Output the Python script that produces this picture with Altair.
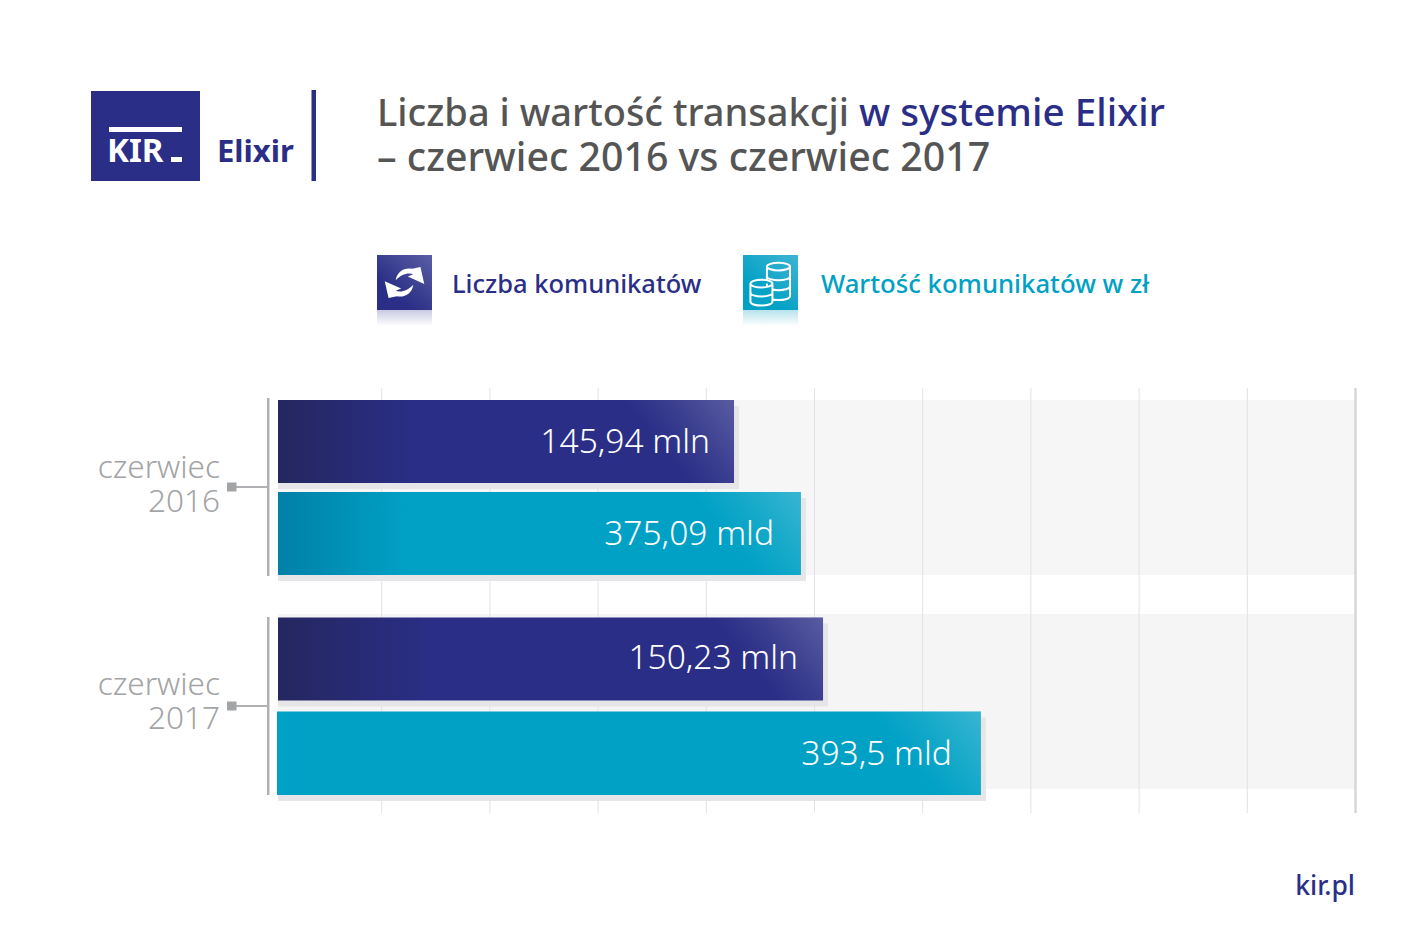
import altair as alt
import pandas as pd

# ---------- data ----------
periods = ["czerwiec 2016", "czerwiec 2017"]
count_values = [145.94, 150.23]     # mln
amount_values = [375.09, 393.5]     # mld
count_labels = ["145,94 mln", "150,23 mln"]
amount_labels = ["375,09 mld", "393,5 mld"]
grid_steps = [1, 2, 3, 4, 5, 6, 7, 8, 9]
grid_end = [10]

NAVY = "#2a2e86"
NAVY_D = "#25275f"
CYAN = "#00a1c5"
CYAN_D = "#0180a8"
GREY = "#a3a4a6"
TITLE = "#555555"
FONT = "Noto Sans"

W, H = 1401, 929
def X(p): return p - 8
def Y(p): return p - 8

ONE = pd.DataFrame({"a": [0]})

def rect(x0, x1, y0, y1, fill, **kw):
    return alt.Chart(ONE).mark_rect(fill=fill, **kw).encode(
        x=alt.value(X(x0)), x2=alt.value(X(x1)), y=alt.value(Y(y0)), y2=alt.value(Y(y1)))

def txt(s, x, y, size, color, align="left", weight=400, font=FONT, **kw):
    return alt.Chart(pd.DataFrame({"t": [s]})).mark_text(
        align=align, baseline="alphabetic", fontSize=size, color=color,
        fontWeight=weight, font=font, **kw
    ).encode(x=alt.value(X(x)), y=alt.value(Y(y)), text="t:N")

def hgrad(c0, c1, stop=0.3):
    return {"gradient": "linear", "x1": 0, "y1": 0, "x2": 1, "y2": 0,
            "stops": [{"offset": 0, "color": c0}, {"offset": stop, "color": c1},
                      {"offset": 1, "color": c1}]}

def vgrad(c0, c1):
    return {"gradient": "linear", "x1": 0, "y1": 0, "x2": 0, "y2": 1,
            "stops": [{"offset": 0, "color": c0}, {"offset": 1, "color": c1}]}

SHINE = {"gradient": "linear", "x1": 0, "y1": 0.6, "x2": 1, "y2": 0,
         "stops": [{"offset": 0.26, "color": "rgba(255,255,255,0)"},
                   {"offset": 0.56, "color": "rgba(255,255,255,0.08)"},
                   {"offset": 1, "color": "rgba(255,255,255,0.22)"}]}

COUNT_DOM = [123.96, 175.87]
AMOUNT_DOM = [321.6, 431.76]
RANGE = [X(278), X(1355)]

def hbar(value, dom, y0, y1, fill, label, dx, left=0, base=11.5):
    df = pd.DataFrame({"v": [value], "b": [dom[0]], "t": [label]})
    sc = alt.Scale(domain=dom, range=RANGE)
    enc = alt.X("v:Q", scale=sc, axis=None)
    shadow = alt.Chart(df).mark_bar(fill="#e6e6e8", xOffset=5, x2Offset=0, yOffset=6, y2Offset=6).encode(
        x=enc, x2=alt.X2("b:Q"), y=alt.value(Y(y0)), y2=alt.value(Y(y1)))
    bar = alt.Chart(df).mark_bar(fill=fill, x2Offset=left).encode(
        x=enc, x2=alt.X2("b:Q"), y=alt.value(Y(y0)), y2=alt.value(Y(y1)))
    shine = alt.Chart(df).mark_bar(fill=SHINE, x2Offset=-110).encode(
        x=enc, x2=alt.X2("v:Q"), y=alt.value(Y(y0)), y2=alt.value(Y(y1)))
    text = alt.Chart(df).mark_text(
        align="right", baseline="alphabetic", fontSize=33.5, color="white", font=FONT, fontWeight=300, dx=dx
    ).encode(x=enc, y=alt.value(Y((y0 + y1) / 2 + base)), text="t:N")
    return [shadow, bar, shine, text]

layers = []

# ---------- logo ----------
layers += [
    rect(91, 200, 91, 181, NAVY),
    rect(109, 182, 127, 132, "white"),
    rect(171, 182, 157, 162, "white"),
    txt("KIR", 107, 162, 33, "white", weight=700),
    txt("Elixir", 217, 162, 31, NAVY, weight=700),
    rect(311.5, 316, 90, 181, NAVY),
]

# ---------- title ----------
layers += [
    txt("Liczba i wartość transakcji", 377, 126, 38, TITLE, weight=500),
    txt("w systemie Elixir", 859, 126, 38.7, NAVY, weight=500),
    txt("– czerwiec 2016 vs czerwiec 2017", 377, 171, 39.3, TITLE, weight=500),
]

# ---------- legend ----------
UP = "M -0.32 -0.08 C -0.28 -0.38 -0.02 -0.56 0.28 -0.50 L 0.58 -0.56 L 0.72 0.05 L 0.12 -0.22 L 0.32 -0.30 C 0.12 -0.38 -0.14 -0.28 -0.32 -0.08 Z"
DOWN = "M 0.32 0.08 C 0.28 0.38 0.02 0.56 -0.28 0.50 L -0.58 0.56 L -0.72 -0.05 L -0.12 0.22 L -0.32 0.30 C -0.12 0.38 0.14 0.28 0.32 0.08 Z"

def stack(cx, top, n, rx=0.42, ry=0.14, step=0.30):
    p = f"M {cx-rx:.3f} {top:.3f} A {rx} {ry} 0 1 1 {cx+rx:.3f} {top:.3f} A {rx} {ry} 0 1 1 {cx-rx:.3f} {top:.3f} "
    for i in range(1, n + 1):
        y = top + i * step
        p += f"M {cx-rx:.3f} {y-step:.3f} L {cx-rx:.3f} {y:.3f} A {rx} {ry} 0 0 0 {cx+rx:.3f} {y:.3f} L {cx+rx:.3f} {y-step:.3f} "
    return p

COINS_BACK = stack(0.29, -0.58, 3, step=0.36)
COINS_FRONT = stack(-0.33, 0.04, 2, rx=0.40, step=0.33)

def glyph(path, cx, cy, **kw):
    return alt.Chart(ONE).mark_point(shape=path, size=55 * 55, **kw).encode(
        x=alt.value(X(cx)), y=alt.value(Y(cy)))

SQ_N = {"gradient": "linear", "x1": 0.35, "y1": 0.75, "x2": 1, "y2": 0,
        "stops": [{"offset": 0, "color": NAVY}, {"offset": 1, "color": "#5a5ea4"}]}
SQ_C = {"gradient": "linear", "x1": 0.35, "y1": 0.75, "x2": 1, "y2": 0,
        "stops": [{"offset": 0, "color": CYAN}, {"offset": 1, "color": "#40b4d2"}]}

layers += [
    rect(377, 432, 310, 326, vgrad("#c9cae2", "#ffffff")),
    rect(377, 432, 255, 310, SQ_N),
    glyph(UP, 404.5, 282.5, filled=True, fill="white", opacity=1),
    glyph(DOWN, 404.5, 282.5, filled=True, fill="white", opacity=1),
    txt("Liczba komunikatów", 452, 293, 25.5, NAVY, weight=500),
    rect(743, 798, 310, 326, vgrad("#b5e2ec", "#ffffff")),
    rect(743, 798, 255, 310, SQ_C),
    glyph(COINS_BACK, 770.5, 282.5, filled=False, stroke="white", strokeWidth=2, opacity=1),
    glyph(COINS_FRONT, 770.5, 282.5, filled=True, fill="#06a3c6", stroke="white", strokeWidth=2, opacity=1),
    txt("Wartość komunikatów w zł", 821, 293, 25.7, CYAN, weight=500),
]

# ---------- background bands ----------
layers += [rect(278, 1355, 400, 575, "#f6f6f6"), rect(278, 1355, 614, 789, "#f5f5f5")]

# ---------- grid ----------
grid_x = alt.X("g:Q", scale=alt.Scale(domain=[0, 10], range=[X(273.5), X(1355.5)]), axis=None)
layers += [
    alt.Chart(pd.DataFrame({"g": grid_steps})).mark_rule(color="#e2e2e2", strokeWidth=1).encode(
        x=grid_x, y=alt.value(Y(388)), y2=alt.value(Y(813))),
    alt.Chart(pd.DataFrame({"g": grid_end})).mark_rule(color="#d6d6d6", strokeWidth=2.4).encode(
        x=grid_x, y=alt.value(Y(388)), y2=alt.value(Y(813))),
]

# ---------- bars ----------
layers += hbar(count_values[0], COUNT_DOM, 400, 483, hgrad(NAVY_D, NAVY, 0.3), count_labels[0], -24)
layers += hbar(amount_values[0], AMOUNT_DOM, 492, 575, hgrad(CYAN_D, CYAN, 0.25), amount_labels[0], -27)
layers += hbar(count_values[1], COUNT_DOM, 617.5, 700.5, hgrad(NAVY_D, NAVY, 0.28), count_labels[1], -25, base=9.5)
layers += hbar(amount_values[1], AMOUNT_DOM, 711.5, 795, CYAN, amount_labels[1], -29, left=-1, base=11.5)

# ---------- category axis ----------
def cat(period, y0, y1, ytick, ybase):
    word, year = period.split(" ")
    return [
        rect(267, 269.5, y0, y1, "#b0b1b4"),
        rect(235, 268, ytick - 1, ytick + 1, "#b0b1b4"),
        rect(227, 236.5, ytick - 4.5, ytick + 4.5, GREY),
        txt(word, 220, ybase, 31.5, GREY, align="right", weight=300),
        txt(year, 220, ybase + 34, 31.5, GREY, align="right", weight=300),
    ]

layers += cat(periods[0], 398, 576, 487, 478)
layers += cat(periods[1], 617, 795, 706, 695)

# ---------- footer ----------
layers += [txt("kir.pl", 1355, 895, 26.5, NAVY, align="right", weight=500)]

chart = alt.layer(*layers).resolve_scale(x="independent").properties(
    width=W, height=H, padding=0, autosize=alt.AutoSizeParams(type="none"), background="white"
).configure_view(stroke=None)

chart.save("out.html", embed_options={"renderer": "svg", "actions": False})
